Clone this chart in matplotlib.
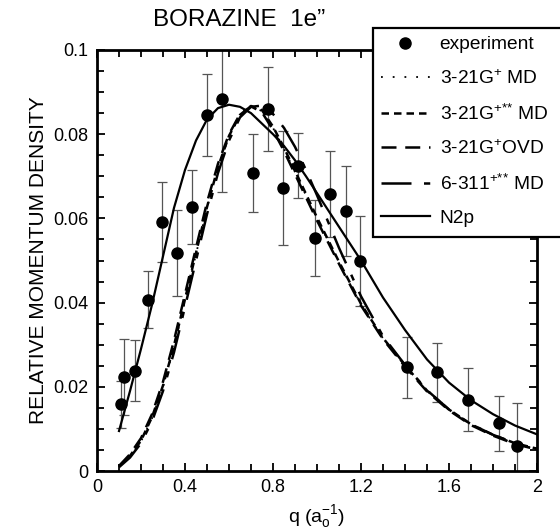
import matplotlib
matplotlib.use("Agg")
import matplotlib.pyplot as plt
from matplotlib.ticker import MultipleLocator, FixedLocator
from matplotlib.lines import Line2D
from matplotlib.patches import Rectangle

plt.rcParams['font.family'] = ['Liberation Sans', 'DejaVu Sans']
plt.rcParams['mathtext.default'] = 'regular'

# experimental data
q_exp = [0.108, 0.124, 0.173, 0.230, 0.295, 0.362, 0.430, 0.498, 0.570, 0.707, 0.777,
         0.847, 0.915, 0.991, 1.059, 1.130, 1.195, 1.410, 1.544, 1.688, 1.826, 1.909]
v_exp = [0.0158, 0.0224, 0.0238, 0.0407, 0.0591, 0.0518, 0.0627, 0.0845, 0.0883, 0.0708, 0.0860,
         0.0673, 0.0725, 0.0554, 0.0658, 0.0618, 0.0499, 0.0246, 0.0234, 0.0169, 0.0113, 0.0060]
e_exp = [0.0055, 0.0090, 0.0072, 0.0068, 0.0095, 0.0102, 0.0088, 0.0097, 0.0220, 0.0092, 0.0100,
         0.0135, 0.0077, 0.0090, 0.0101, 0.0107, 0.0106, 0.0072, 0.0071, 0.0075, 0.0066, 0.0102]

q_th = [0.10, 0.15, 0.20, 0.25, 0.30, 0.35, 0.40, 0.45, 0.50, 0.55, 0.60, 0.65, 0.70, 0.75,
        0.80, 0.85, 0.90, 0.95, 1.00, 1.10, 1.20, 1.30, 1.40, 1.50, 1.60, 1.70, 1.80, 1.90, 2.00]
md_321g = [0.0010, 0.0035, 0.0070, 0.0125, 0.0200, 0.0295, 0.0405, 0.0515, 0.0625, 0.0720,
           0.0795, 0.0845, 0.0866, 0.0855, 0.0815, 0.0765, 0.0710, 0.0655, 0.0600, 0.0495,
           0.0395, 0.0315, 0.0250, 0.0190, 0.0145, 0.0110, 0.0085, 0.0065, 0.0052]
md_321gss = [0.0011, 0.0036, 0.0072, 0.0128, 0.0203, 0.0298, 0.0408, 0.0518, 0.0627, 0.0722,
             0.0796, 0.0846, 0.0867, 0.0857, 0.0818, 0.0768, 0.0713, 0.0658, 0.0602, 0.0497,
             0.0397, 0.0316, 0.0251, 0.0191, 0.0146, 0.0111, 0.0086, 0.0066, 0.0053]
ovd_321g = [0.0012, 0.0040, 0.0078, 0.0135, 0.0212, 0.0310, 0.0420, 0.0530, 0.0638, 0.0730,
            0.0800, 0.0848, 0.0866, 0.0852, 0.0810, 0.0760, 0.0705, 0.0650, 0.0595, 0.0492,
            0.0393, 0.0313, 0.0248, 0.0189, 0.0144, 0.0109, 0.0084, 0.0064, 0.0051]
md_6311 = [0.0009, 0.0032, 0.0066, 0.0118, 0.0190, 0.0282, 0.0390, 0.0500, 0.0610, 0.0708,
           0.0785, 0.0840, 0.0865, 0.0868, 0.0848, 0.0815, 0.0770, 0.0715, 0.0655, 0.0530,
           0.0415, 0.0320, 0.0252, 0.0192, 0.0146, 0.0111, 0.0086, 0.0066, 0.0053]
n2p = [0.0095, 0.0190, 0.0290, 0.0395, 0.0510, 0.0625, 0.0715, 0.0785, 0.0835, 0.0862,
       0.0870, 0.0865, 0.0850, 0.0825, 0.0800, 0.0772, 0.0738, 0.0700, 0.0660, 0.0580,
       0.0500, 0.0412, 0.0335, 0.0265, 0.0210, 0.0168, 0.0135, 0.0108, 0.0087]

labels = ["experiment", "3-21G$^{+}$ MD", "3-21G$^{+{*}{*}}$ MD", "3-21G$^{+}$OVD",
          "6-311$^{+{*}{*}}$ MD", "N2p"]
title = "BORAZINE  1e\u201d"
xticks = [0, 0.4, 0.8, 1.2, 1.6, 2.0]
xticklabels = ["0", "0.4", "0.8", "1.2", "1.6", "2"]
yticks = [0, 0.02, 0.04, 0.06, 0.08, 0.1]
yticklabels = ["0", "0.02", "0.04", "0.06", "0.08", "0.1"]

fig = plt.figure(figsize=(5.6, 5.29), dpi=100)
ax = fig.add_axes([97/560, 1-471/529, 440/560, 421/529])

ax.errorbar(q_exp, v_exp, yerr=e_exp, fmt='none', ecolor='#555555', elinewidth=0.9,
            capsize=3.5, capthick=0.9, zorder=2)
ax.plot(q_exp, v_exp, 'o', color='black', markersize=8, zorder=5)

ls_dot = (0, (1, 5.5))
ls_short = (0, (3, 2))
ls_med = (0, (6, 3.5))
ls_long = (0, (12, 5, 2.5, 5))

ax.plot(q_th, md_321g, color='black', lw=1.3, linestyle=ls_dot, zorder=3)
ax.plot(q_th, md_321gss, color='black', lw=1.8, linestyle=ls_short, zorder=3)
ax.plot(q_th, ovd_321g, color='black', lw=1.8, linestyle=ls_med, zorder=3)
ax.plot(q_th, md_6311, color='black', lw=1.8, linestyle=ls_long, zorder=3)
ax.plot(q_th, n2p, color='black', lw=1.6, linestyle='-', zorder=3)

ax.set_xlim(0, 2.0)
ax.set_ylim(0, 0.1)
ax.xaxis.set_major_locator(FixedLocator(xticks))
ax.set_xticklabels(xticklabels)
ax.yaxis.set_major_locator(FixedLocator(yticks))
ax.set_yticklabels(yticklabels)
ax.xaxis.set_minor_locator(MultipleLocator(0.1))
ax.yaxis.set_minor_locator(MultipleLocator(0.005))
ax.tick_params(which='both', direction='in', top=True, right=True, width=1.3,
               labelsize=13, color='black')
ax.tick_params(which='major', length=6, pad=6)
ax.tick_params(which='minor', length=5)
for s in ax.spines.values():
    s.set_linewidth(2.0)

ax.set_ylabel("RELATIVE MOMENTUM DENSITY", fontsize=15, labelpad=4)
ax.set_xlabel("q (a$_{o}^{-1}$)", fontsize=14, labelpad=5)
fig.text(239/560, 1-20/529, title, fontsize=17.5, ha='center', va='center')

# legend box (extends beyond the right edge of the figure, as in the original)
box = Rectangle((373/560, 1-237/529), 240/560, 209/529, transform=fig.transFigure,
                facecolor='white', edgecolor='black', linewidth=1.6, zorder=9,
                clip_on=False)
fig.add_artist(box)

handles = [
    Line2D([], [], marker='o', color='black', linestyle='none', markersize=8),
    Line2D([], [], color='black', lw=1.3, linestyle=ls_dot),
    Line2D([], [], color='black', lw=1.8, linestyle=ls_short),
    Line2D([], [], color='black', lw=1.8, linestyle=ls_med),
    Line2D([], [], color='black', lw=1.8, linestyle=ls_long),
    Line2D([], [], color='black', lw=1.6, linestyle='-'),
]
leg = fig.legend(handles, labels, loc='upper left', bbox_to_anchor=(373/560, 1-28/529),
                 bbox_transform=fig.transFigure, fontsize=13.8, handlelength=2.55,
                 handletextpad=0.5, labelspacing=0.82, borderpad=0.42, borderaxespad=0,
                 frameon=False)
leg.set_zorder(10)

fig.savefig("out.png", dpi=100)
